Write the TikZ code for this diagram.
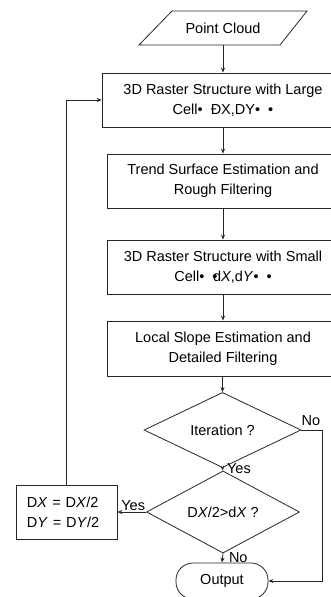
\documentclass[tikz,border=0pt]{standalone}
\usepackage{fontspec}
\setmainfont{Liberation Sans}
\usetikzlibrary{shapes.geometric,arrows.meta}
\tikzset{
  ln/.style={line width=0.8pt, draw=black!85},
  arr/.style={ln, -{Stealth[length=5pt,width=4pt]}},
  procbox/.style={ln, rectangle, minimum height=54pt, align=center, inner sep=0pt},
  decision/.style={ln, diamond, inner sep=0pt},
  lbl/.style={inner sep=0pt, font=\fontsize{14.5}{20}\selectfont},
}
\begin{document}
\begin{tikzpicture}[x=1pt,y=-1pt,font=\fontsize{14.5}{20}\selectfont]
\useasboundingbox (0,0) rectangle (331,597);
\fill[white] (0,0) rectangle (331,597);
\clip (0,0) rectangle (331,597);
% point cloud (parallelogram)
\draw[ln] (172,11) -- (307,11) -- (280,45) -- (139,45) -- cycle;
\node[minimum height=34pt, minimum width=90pt, inner sep=0pt] (pc) at (223,28) {Point Cloud};
% process boxes
\node[procbox, minimum width=242pt] (b1) at (223,100) {3D Raster Structure with Large\\Cell•\ \ Đ{X},DY•\ \ •};
\node[procbox, minimum width=232pt] (b2) at (223,181) {Trend Surface Estimation and\\Rough Filtering};
\node[procbox, minimum width=232pt] (b3) at (223,267) {3D Raster Structure with Small\\Cell•\ \ •\kern-0.3em d\textit{X},d\textit{Y}•\ \ •};
\node[procbox, minimum width=232pt, minimum height=55pt] (b4) at (223,348.5) {Local Slope Estimation and\\Detailed Filtering};
% decisions
\node[decision, minimum width=157pt, minimum height=55pt] (d1) at (222.5,430) {Iteration ?};
\node[decision, minimum width=153pt, minimum height=55pt] (d2) at (223,512) {D\textit{X}/2>d\textit{X} ?};
% update box
\node[procbox, minimum width=101pt, text width=79pt, align=left, inner xsep=11pt] (b5) at (66.5,512) {D\textit{X} = D\textit{X}/2\\D\textit{Y} = D\textit{Y}/2};
% output
\node[ln, rectangle, rounded corners=17pt, minimum width=92pt, minimum height=36pt, inner sep=0pt] (out) at (222,581) {Output};
% connectors
\draw[arr] (pc.south) -- (b1.north);
\draw[arr] (b1.south) -- (b2.north);
\draw[arr] (b2.south) -- (b3.north);
\draw[arr] (b3.south) -- (b4.north);
\draw[arr] (b4.south -| d1.north) -- (d1.north);
\draw[arr] (d1.south) -- node[lbl, anchor=west, xshift=4pt, pos=0.42] (yes1) {Yes} (d2.north);
\draw[arr] (d2.south) -- node[lbl, anchor=west, xshift=6pt, pos=0.4] (no2) {No} (out.north);
\draw[arr] (d2.west) -- node[lbl, anchor=south, yshift=1pt, pos=0.45] (yes2) {Yes} (b5.east);
\draw[arr] (d1.east) -- ++(21,0) |- (out.east);
\node[lbl] (no1) at (311,421) {No};
\draw[arr] (b5.north) |- (b1.west);
\end{tikzpicture}
\end{document}
